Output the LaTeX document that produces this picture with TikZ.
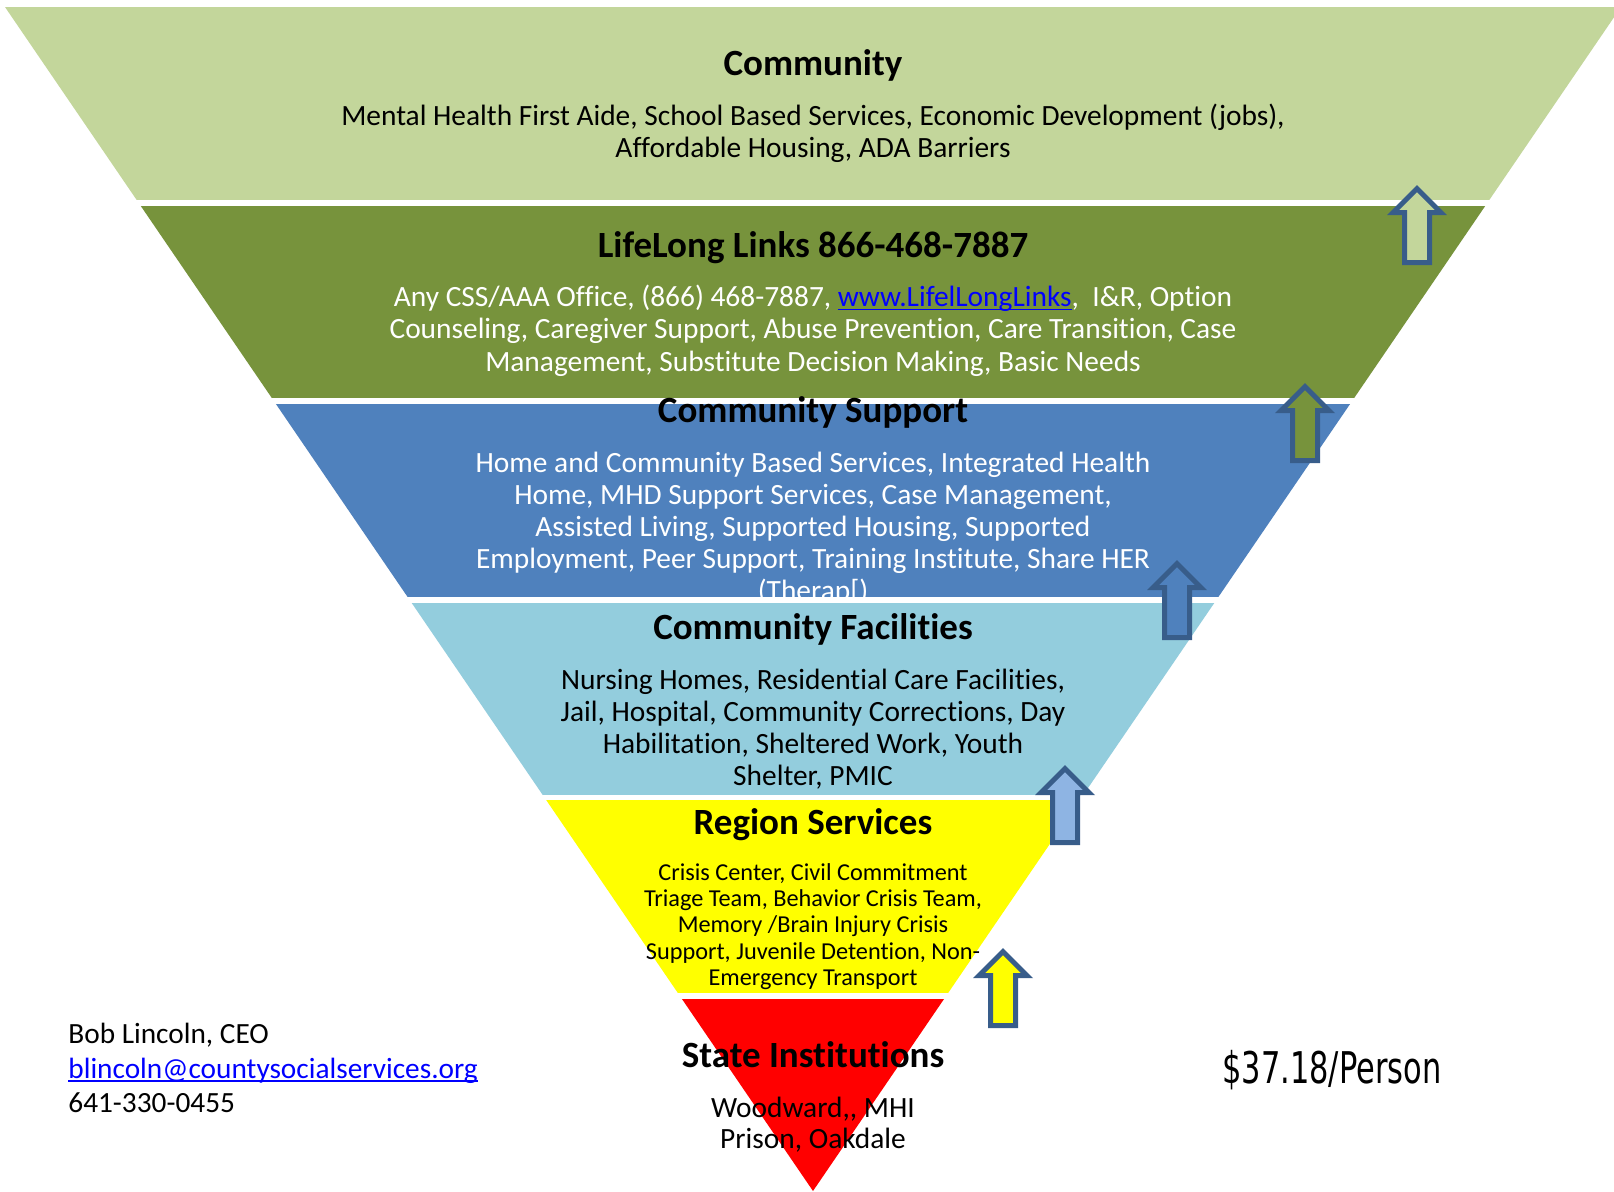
\documentclass[tikz,border=0pt]{standalone}
\usepackage{fontspec}
\setmainfont{Carlito}[Ligatures={TeX,CommonOff}]
\newfontfamily\pricefont{DejaVu Sans}
\definecolor{bandA}{HTML}{C3D69B}
\definecolor{bandB}{HTML}{77933C}
\definecolor{bandC}{HTML}{4F81BD}
\definecolor{bandD}{HTML}{93CDDD}
\definecolor{bandE}{HTML}{FFFF00}
\definecolor{bandF}{HTML}{FF0000}
\definecolor{arrowedge}{HTML}{385D8A}
\definecolor{arrowlight}{HTML}{8EB4E3}
\definecolor{linkblue}{HTML}{0000FF}
\newsavebox\myulbox
\newcommand\myul[1]{\sbox\myulbox{#1}\rlap{\rule[-2pt]{\wd\myulbox}{0.9pt}}\usebox\myulbox}
\tikzset{
  titletext/.style={font=\fontsize{18.5}{22}\selectfont\bfseries, inner sep=0pt, anchor=base},
  bodytext/.style={font=\fontsize{14.7}{16}\selectfont, inner sep=0pt, align=center},
  smalltext/.style={font=\fontsize{12.15}{13.1}\selectfont, inner sep=0pt, align=center},
  arrowline/.style={draw=arrowedge, line width=2.5pt, line join=miter},
  pics/uparrow/.style={code={
    \draw[arrowline, fill=#1] (0,3.54) -- (23.96,27.5) -- (12.5,27.5) -- (12.5,77.5)
      -- (-12.5,77.5) -- (-12.5,27.5) -- (-23.96,27.5) -- cycle;
  }}
}
\begin{document}
\begin{tikzpicture}[x=0.5pt, y=-0.5pt]
\path[use as bounding box, fill=white] (0,0) rectangle (1614,1191);
\begin{scope}
  \clip (0,0) rectangle (1614,1191);
  \clip (5,7) -- (1621,7) -- (813,1191) -- cycle;
  \fill[bandA] (0,7) rectangle (1630,200);
  \fill[bandB] (0,206) rectangle (1630,398);
  \fill[bandC] (0,404) rectangle (1630,597);
  \fill[bandD] (0,603) rectangle (1630,795);
  \fill[bandE] (0,800) rectangle (1630,993);
  \fill[bandF] (0,999) rectangle (1630,1200);
\end{scope}

% Community
\node[titletext] (t1) at (813,75) {Community};
\node[bodytext] (b1) at (813,133) {Mental Health First Aide, School Based Services, Economic Development (jobs),\\Affordable Housing, ADA Barriers};

% LifeLong Links
\node[titletext] (t2) at (813,257) {LifeLong Links 866-468-7887};
\node[bodytext, text=white, font=\fontsize{14.7}{16.15}\selectfont] (b2) at (813,330.5) {Any CSS/AAA Office, (866) 468-7887, {\color{linkblue}\myul{www.LifelLongLinks}},~ I\&R, Option\\Counseling, Caregiver Support, Abuse Prevention, Care Transition, Case\\Management, Substitute Decision Making, Basic Needs};

% Community Support
\begin{scope}
  \clip (275.9,404) -- (1345.1,404) -- (1213.4,597) -- (407.6,597) -- cycle;
  \node[bodytext, text=white] (b3) at (813,528.5) {Home and Community Based Services, Integrated Health\\Home, MHD Support Services, Case Management,\\Assisted Living, Supported Housing, Supported\\Employment, Peer Support, Training Institute, Share HER\\(Therap[)};
\end{scope}
\node[titletext] (t3) at (813,422) {Community Support};

% Community Facilities
\node[titletext] (t4) at (813,639) {Community Facilities};
\node[bodytext] (b4) at (813,729.5) {Nursing Homes, Residential Care Facilities,\\Jail, Hospital, Community Corrections, Day\\Habilitation, Sheltered Work, Youth\\Shelter, PMIC};

% Region Services
\node[titletext] (t5) at (813,834) {Region Services};
\node[smalltext] (b5) at (813,926.5) {Crisis Center, Civil Commitment\\Triage Team, Behavior Crisis Team,\\Memory /Brain Injury Crisis\\Support, Juvenile Detention, Non-\\Emergency Transport};

% State Institutions
\node[titletext] (t6) at (813,1067.3) {State Institutions};
\node[bodytext, font=\fontsize{14.7}{15.5}\selectfont] (b6) at (813,1124.5) {Woodward,{}, MHI\\Prison, Oakdale};

% arrows
\pic at (1417,185) {uparrow=bandA};
\pic at (1305,383) {uparrow=bandB};
\pic at (1177,560) {uparrow=bandC};
\pic at (1065,765) {uparrow=arrowlight};
\pic at (1003,948) {uparrow=bandE};

% contact
\node[anchor=west, inner sep=0pt, align=left, font=\fontsize{14.66}{17.3}\selectfont] (contact) at (68,1068) {Bob Lincoln, CEO\\{\color{linkblue}\myul{blincoln@countysocialservices.org}}\\641-330-0455};

% price
\node[anchor=base west, inner sep=0pt] (price) at (1222,1083) {\resizebox{109.5pt}{16.6pt}{\pricefont \$37.18/Person}};
\end{tikzpicture}
\end{document}
